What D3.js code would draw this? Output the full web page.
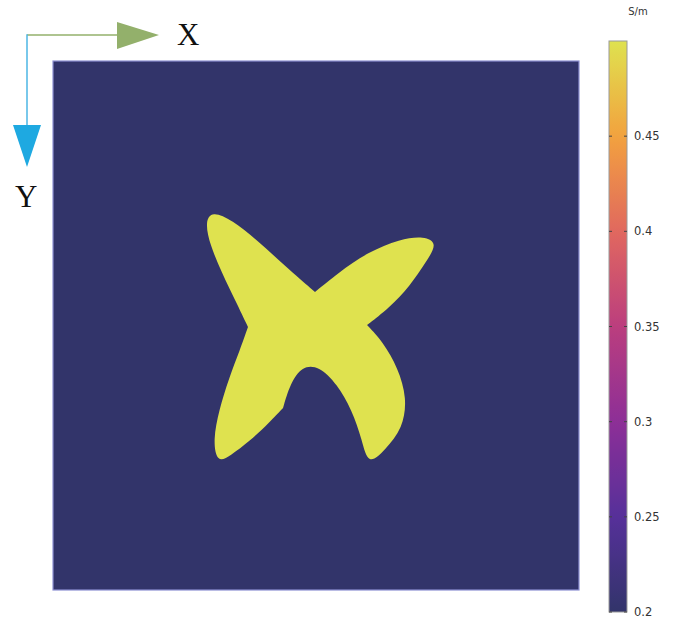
<!DOCTYPE html>
<html>
<head>
<meta charset="utf-8">
<script src="https://cdn.jsdelivr.net/npm/d3@7"></script>
<style>
  html, body { margin: 0; padding: 0; background: #fff; }
  svg { display: block; }
</style>
</head>
<body>
<svg id="chart" width="677" height="620"></svg>
<script>
// Conductivity map (S/m): background medium and an X-shaped inclusion.
const backgroundSigma = 0.2;
const inclusionSigma = 0.5;

// B-spline control points of the inclusion boundary, normalised coordinates
// (x to the right, y downward), clockwise from the upper notch.
const outlineX = [0.4981, 0.5418, 0.5989, 0.6597, 0.7053, 0.7319, 0.7091, 0.6787, 0.6388, 0.5970,
                  0.6274, 0.6559, 0.6730, 0.6654, 0.6312, 0.5989, 0.5875, 0.5684, 0.5399, 0.5057,
                  0.4734, 0.4506, 0.4373, 0.4125, 0.3745, 0.3365, 0.3118, 0.3042, 0.3156, 0.3346,
                  0.3555, 0.3707, 0.3479, 0.3213, 0.2985, 0.2890, 0.3023, 0.3403, 0.3878, 0.4411];
const outlineY = [0.4367, 0.4008, 0.3611, 0.3365, 0.3308, 0.3440, 0.3800, 0.4253, 0.4669, 0.4991,
                  0.5312, 0.5803, 0.6371, 0.6938, 0.7353, 0.7656, 0.7164, 0.6597, 0.6106, 0.5766,
                  0.5766, 0.6106, 0.6560, 0.6824, 0.7183, 0.7467, 0.7599, 0.7164, 0.6597, 0.5992,
                  0.5463, 0.5028, 0.4556, 0.4008, 0.3478, 0.3043, 0.2836, 0.3006, 0.3384, 0.3875];
// Boundary vertices where the outline has a sharp corner.
const cornerIndex = [0, 9, 22, 31];

// Colour map used for the field and the colour bar.
const cmapValues = [0.2, 0.25, 0.3, 0.35, 0.4, 0.45, 0.5];
const cmapColors = ["#32346a", "#56309a", "#8d2f97", "#bb3e7e", "#e1685f", "#f2a23e", "#dfe24f"];
const colorTicks = [0.2, 0.25, 0.3, 0.35, 0.4, 0.45];
const colorUnit = "S/m";

const svg = d3.select("#chart");

const x = d3.scaleLinear().domain([0, 1]).range([53, 579]);
const y = d3.scaleLinear().domain([0, 1]).range([61, 590]);
const color = d3.scaleLinear().domain(cmapValues).range(cmapColors).interpolate(d3.interpolateRgb);

// Background medium
svg.append("rect")
  .attr("x", x(0)).attr("y", y(0))
  .attr("width", x(1) - x(0)).attr("height", y(1) - y(0))
  .attr("fill", color(backgroundSigma));

// Inclusion: smooth B-spline pieces joined at the sharp corners
const pts = outlineX.map((v, i) => [v, outlineY[i]]);
const n = pts.length;
const start = cornerIndex[0];
const pieces = [];
let cur = [pts[start]];
for (let k = 1; k <= n; k++) {
  const i = (start + k) % n;
  cur.push(pts[i]);
  if (cornerIndex.includes(i)) { pieces.push(cur); cur = [pts[i]]; }
}
const seg = d3.line().x(d => x(d[0])).y(d => y(d[1])).curve(d3.curveBasis);
const d = pieces.map((p, j) => {
  const s = seg(p);
  return j === 0 ? s : "L" + s.slice(1);
}).join("") + "Z";
svg.append("path").attr("d", d).attr("fill", color(inclusionSigma));

// Domain frame
svg.append("rect")
  .attr("x", x(0)).attr("y", y(0))
  .attr("width", x(1) - x(0)).attr("height", y(1) - y(0))
  .attr("fill", "none").attr("stroke", "#8d90d2").attr("stroke-width", 1.2);

// Colour bar
const cb = { x: 609, w: 18, top: 41, bottom: 612 };
const cy = d3.scaleLinear().domain([cmapValues[0], cmapValues[cmapValues.length - 1]]).range([cb.bottom, cb.top]);
const grad = svg.append("defs").append("linearGradient")
  .attr("id", "cbar").attr("x1", 0).attr("y1", 1).attr("x2", 0).attr("y2", 0);
d3.range(0, 1.0001, 0.02).forEach(t => {
  const v = cmapValues[0] + t * (cmapValues[cmapValues.length - 1] - cmapValues[0]);
  grad.append("stop").attr("offset", t).attr("stop-color", color(v));
});
svg.append("rect")
  .attr("x", cb.x).attr("y", cb.top).attr("width", cb.w).attr("height", cb.bottom - cb.top)
  .attr("fill", "url(#cbar)").attr("stroke", "#9a9a9a").attr("stroke-width", 1);

const tickG = svg.append("g").selectAll("g").data(colorTicks).join("g")
  .attr("transform", v => `translate(0,${cy(v)})`);
tickG.append("line").attr("x1", cb.x).attr("x2", cb.x + 3).attr("stroke", "#444").attr("stroke-width", 1);
tickG.append("line").attr("x1", cb.x + cb.w - 3).attr("x2", cb.x + cb.w).attr("stroke", "#444").attr("stroke-width", 1);
tickG.append("text")
  .attr("x", 634).attr("dy", "0.35em")
  .attr("font-family", "DejaVu Sans, sans-serif").attr("font-size", 11.5).attr("fill", "#333")
  .text(v => d3.format("")(v));

svg.append("text")
  .attr("x", 638).attr("y", 15).attr("text-anchor", "middle")
  .attr("font-family", "DejaVu Sans, sans-serif").attr("font-size", 10).attr("fill", "#333")
  .text(colorUnit);

// Axis orientation indicator
const ox = 27, oy = 35;
svg.append("line").attr("x1", ox).attr("y1", oy).attr("x2", 118).attr("y2", oy)
  .attr("stroke", "#93b06b").attr("stroke-width", 1.5);
svg.append("path").attr("d", `M117,22L159,35L117,49Z`).attr("fill", "#93b06b");
svg.append("line").attr("x1", ox).attr("y1", oy - 0.7).attr("x2", ox).attr("y2", 126)
  .attr("stroke", "#4db6e4").attr("stroke-width", 1.5);
svg.append("path").attr("d", `M13,125L41,125L27,167Z`).attr("fill", "#1ea9e1");

svg.append("text").attr("x", 177).attr("y", 45)
  .attr("font-family", "Liberation Serif, serif").attr("font-size", 31).attr("fill", "#111")
  .text("X");
svg.append("text").attr("x", 15).attr("y", 207)
  .attr("font-family", "Liberation Serif, serif").attr("font-size", 31).attr("fill", "#111")
  .text("Y");
</script>
</body>
</html>
